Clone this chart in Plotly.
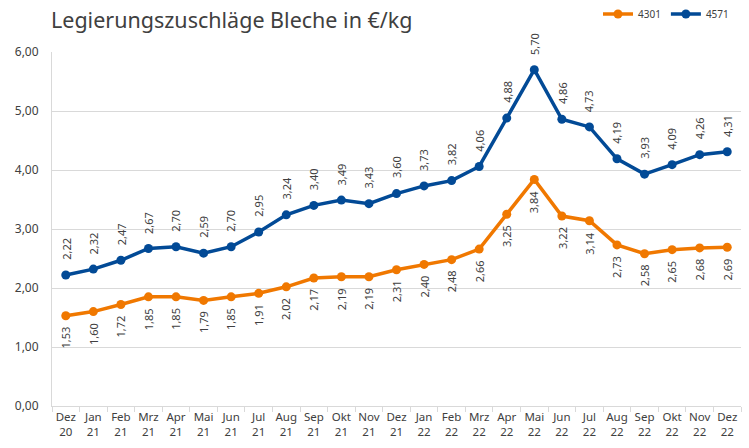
import plotly.graph_objects as go

months = ["Dez<br>20", "Jan<br>21", "Feb<br>21", "Mrz<br>21", "Apr<br>21", "Mai<br>21", "Jun<br>21",
          "Jul<br>21", "Aug<br>21", "Sep<br>21", "Okt<br>21", "Nov<br>21", "Dez<br>21", "Jan<br>22",
          "Feb<br>22", "Mrz<br>22", "Apr<br>22", "Mai<br>22", "Jun<br>22", "Jul<br>22", "Aug<br>22",
          "Sep<br>22", "Okt<br>22", "Nov<br>22", "Dez<br>22"]
v4301 = [1.53, 1.60, 1.72, 1.85, 1.85, 1.79, 1.85, 1.91, 2.02, 2.17, 2.19, 2.19, 2.31, 2.40,
         2.48, 2.66, 3.25, 3.84, 3.22, 3.14, 2.73, 2.58, 2.65, 2.68, 2.69]
v4571 = [2.22, 2.32, 2.47, 2.67, 2.70, 2.59, 2.70, 2.95, 3.24, 3.40, 3.49, 3.43, 3.60, 3.73,
         3.82, 4.06, 4.88, 5.70, 4.86, 4.73, 4.19, 3.93, 4.09, 4.26, 4.31]

ORANGE = "#F07800"
BLUE = "#024A96"
FONT = "Noto Sans"
TXT = "#404040"

def fmt(v):
    return f"{v:.2f}".replace(".", ",")

fig = go.Figure()
fig.add_trace(go.Scatter(x=months, y=v4301, name="4301", mode="lines+markers",
                         line=dict(color=ORANGE, width=3.5), marker=dict(size=9, color=ORANGE)))
fig.add_trace(go.Scatter(x=months, y=v4571, name="4571", mode="lines+markers",
                         line=dict(color=BLUE, width=3.5), marker=dict(size=9, color=BLUE)))

annotations = []
for m, v in zip(months, v4571):
    annotations.append(dict(x=m, y=v, xref="x", yref="y", text=fmt(v), textangle=-90,
                            showarrow=False, yanchor="bottom", xanchor="center", yshift=13,
                            font=dict(family=FONT, size=11, color=TXT)))
for m, v in zip(months, v4301):
    annotations.append(dict(x=m, y=v, xref="x", yref="y", text=fmt(v), textangle=-90,
                            showarrow=False, yanchor="top", xanchor="center", yshift=-9,
                            font=dict(family=FONT, size=11, color=TXT)))

fig.update_layout(
    width=749, height=448,
    margin=dict(l=52, r=8, t=52, b=42, autoexpand=False),
    paper_bgcolor="white", plot_bgcolor="white",
    title=dict(text="Legierungszuschläge Bleche in €/kg", x=51/749, xanchor="left",
               y=1 - 20/448, yanchor="middle", font=dict(family=FONT, size=21.5, color=TXT)),
    legend=dict(orientation="h", x=(598 - 52) / 689, xanchor="left", y=1 + 38/354, yanchor="middle",
                font=dict(family=FONT, size=10, color=TXT), bgcolor="rgba(0,0,0,0)",
                itemwidth=30, tracegroupgap=0),
    showlegend=True,
    annotations=annotations,
    xaxis=dict(type="category", range=[-0.5, len(months) - 0.5], tickson="boundaries",
               ticks="outside", ticklen=5, tickangle=0,
               tickcolor="#D9D9D9", showgrid=False, showline=True, linecolor="#D9D9D9",
               tickfont=dict(family=FONT, size=11.5, color=TXT), automargin=False),
    yaxis=dict(range=[0, 6], dtick=1, tickformat=".2f",
               showgrid=True, gridcolor="#D9D9D9", gridwidth=1, zeroline=False,
               showline=True, linecolor="#D9D9D9", automargin=False, ticklabelstandoff=10,
               tickfont=dict(family=FONT, size=12, color=TXT), ticks=""),
    separators=",.",
)

fig.write_html("out.html", config={"displayModeBar": False},
               post_script="document.body.style.margin='0';")
